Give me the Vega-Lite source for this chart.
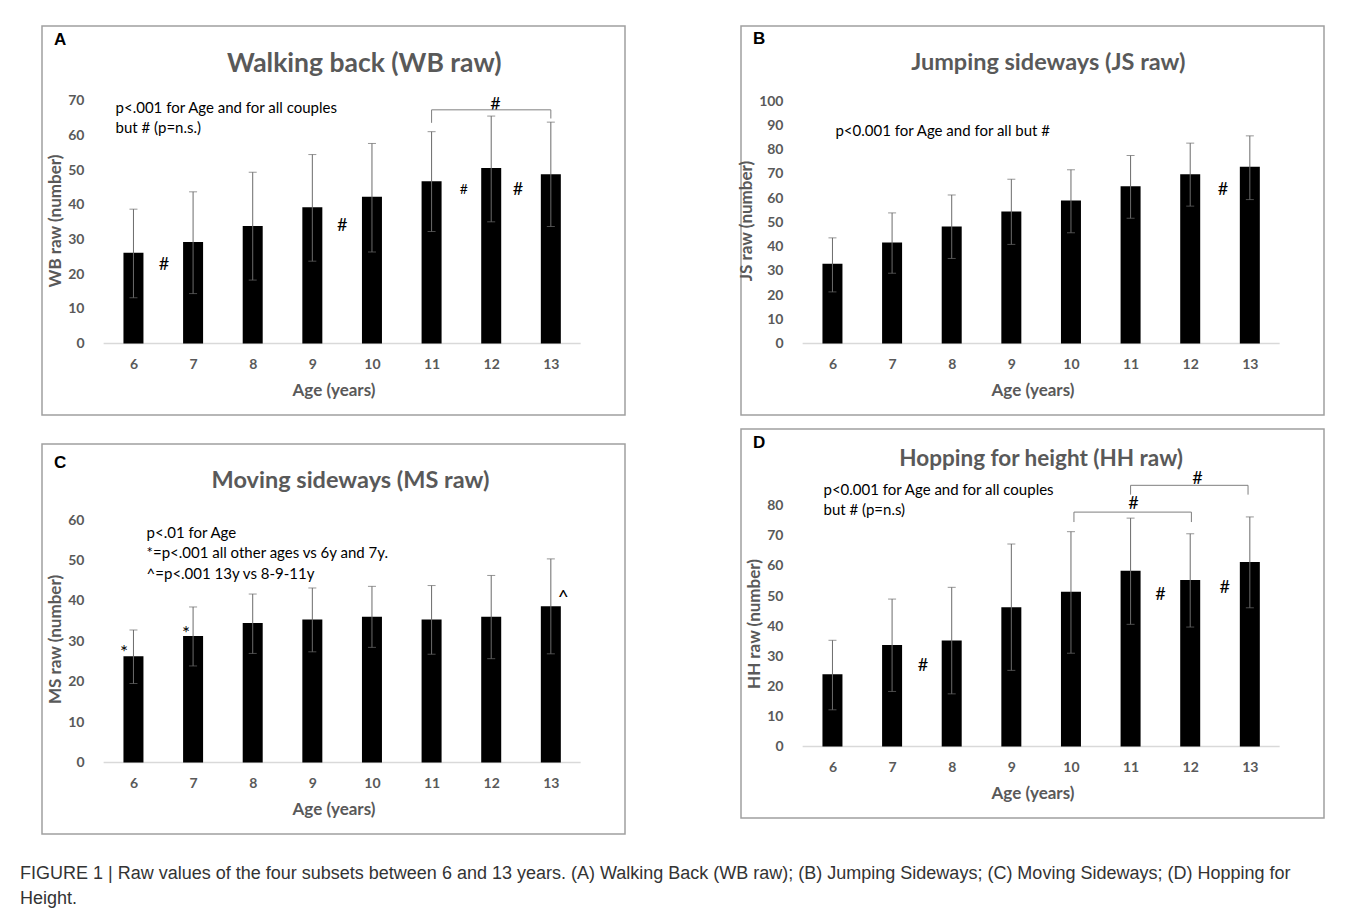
{
  "$schema": "https://vega.github.io/schema/vega-lite/v6.json",
  "padding": {"left": 20, "top": 25, "right": 10, "bottom": 10},
  "background": "white",
  "datasets": {
    "wb": [
      {"age": 6, "mean": 26.15, "lo": 13.2, "hi": 38.75},
      {"age": 7, "mean": 29.3, "lo": 14.4, "hi": 43.75},
      {"age": 8, "mean": 33.9, "lo": 18.3, "hi": 49.4},
      {"age": 9, "mean": 39.3, "lo": 23.75, "hi": 54.5},
      {"age": 10, "mean": 42.3, "lo": 26.4, "hi": 57.7},
      {"age": 11, "mean": 46.8, "lo": 32.3, "hi": 61.1},
      {"age": 12, "mean": 50.6, "lo": 35.1, "hi": 65.6},
      {"age": 13, "mean": 48.85, "lo": 33.75, "hi": 63.85}
    ],
    "js": [
      {"age": 6, "mean": 32.9, "lo": 21.3, "hi": 43.6},
      {"age": 7, "mean": 41.7, "lo": 29.0, "hi": 53.9},
      {"age": 8, "mean": 48.3, "lo": 35.1, "hi": 61.3},
      {"age": 9, "mean": 54.5, "lo": 40.9, "hi": 67.8},
      {"age": 10, "mean": 59.0, "lo": 45.7, "hi": 71.7},
      {"age": 11, "mean": 64.9, "lo": 51.7, "hi": 77.6},
      {"age": 12, "mean": 69.9, "lo": 56.7, "hi": 82.7},
      {"age": 13, "mean": 72.9, "lo": 59.4, "hi": 85.7}
    ],
    "ms": [
      {"age": 6, "mean": 26.3, "lo": 19.55, "hi": 32.8},
      {"age": 7, "mean": 31.3, "lo": 23.9, "hi": 38.5},
      {"age": 8, "mean": 34.5, "lo": 27.0, "hi": 41.7},
      {"age": 9, "mean": 35.4, "lo": 27.4, "hi": 43.2},
      {"age": 10, "mean": 36.1, "lo": 28.5, "hi": 43.6},
      {"age": 11, "mean": 35.4, "lo": 26.8, "hi": 43.8},
      {"age": 12, "mean": 36.1, "lo": 25.7, "hi": 46.3},
      {"age": 13, "mean": 38.7, "lo": 26.9, "hi": 50.4}
    ],
    "hh": [
      {"age": 6, "mean": 24.0, "lo": 12.2, "hi": 35.3},
      {"age": 7, "mean": 33.7, "lo": 18.3, "hi": 49.0},
      {"age": 8, "mean": 35.2, "lo": 17.5, "hi": 52.9},
      {"age": 9, "mean": 46.3, "lo": 25.3, "hi": 67.3},
      {"age": 10, "mean": 51.4, "lo": 31.0, "hi": 71.4},
      {"age": 11, "mean": 58.4, "lo": 40.6, "hi": 75.9},
      {"age": 12, "mean": 55.3, "lo": 39.7, "hi": 70.7},
      {"age": 13, "mean": 61.3, "lo": 46.1, "hi": 76.3}
    ],
    "baseline": [{"from": 5.5, "to": 13.5, "level": 0}],
    "titles": [
      {"panel": "A", "label": "Walking back (WB raw)", "px": 9.87, "py": 80.5},
      {"panel": "B", "label": "Jumping sideways (JS raw)", "px": 9.62, "py": 115.8},
      {"panel": "C", "label": "Moving sideways (MS raw)", "px": 9.64, "py": 69.7},
      {"panel": "D", "label": "Hopping for height (HH raw)", "px": 9.5, "py": 95.6}
    ],
    "letters": [
      {"panel": "A", "label": "A", "px": 4.77, "py": 87.4},
      {"panel": "B", "label": "B", "px": 4.77, "py": 125.5},
      {"panel": "C", "label": "C", "px": 4.77, "py": 74.1},
      {"panel": "D", "label": "D", "px": 4.77, "py": 100.8}
    ],
    "notes": [
      {"panel": "A", "label": ["p<.001 for Age and for all couples", "but # (p=n.s.)"], "px": 5.7, "py": 67.8},
      {"panel": "B", "label": ["p<0.001 for Age and for all but #"], "px": 6.05, "py": 87.6},
      {"panel": "C", "label": ["p<.01 for Age", "*=p<.001 all other ages vs 6y and 7y.", "^=p<.001 13y vs 8-9-11y"], "px": 6.22, "py": 56.9},
      {"panel": "D", "label": ["p<0.001 for Age and for all couples", "but # (p=n.s)"], "px": 5.85, "py": 85.3}
    ],
    "signs": [
      {"panel": "A", "label": "#", "px": 6.51, "py": 22.6},
      {"panel": "A", "label": "#", "px": 9.5, "py": 33.85},
      {"panel": "A", "label": "#", "px": 12.45, "py": 44.4},
      {"panel": "A", "label": "#", "px": 12.07, "py": 68.65},
      {"panel": "B", "label": "#", "px": 12.55, "py": 63.5},
      {"panel": "C", "label": "*", "px": 5.84, "py": 27.2},
      {"panel": "C", "label": "*", "px": 6.88, "py": 31.8},
      {"panel": "C", "label": "^", "px": 13.21, "py": 40.6},
      {"panel": "D", "label": "#", "px": 7.52, "py": 26.9},
      {"panel": "D", "label": "#", "px": 11.5, "py": 50.2},
      {"panel": "D", "label": "#", "px": 12.58, "py": 52.6},
      {"panel": "D", "label": "#", "px": 11.05, "py": 80.6},
      {"panel": "D", "label": "#", "px": 12.12, "py": 88.9}
    ],
    "small_signs": [
      {"panel": "A", "label": "#", "px": 11.54, "py": 44.2}
    ],
    "brackets": [
      {"panel": "A", "xa": 11, "xb": 13, "ya": 67.4, "yb": 67.4},
      {"panel": "A", "xa": 11, "xb": 11, "ya": 67.4, "yb": 63.65},
      {"panel": "A", "xa": 13, "xb": 13, "ya": 67.4, "yb": 64.9},
      {"panel": "D", "xa": 10.05, "xb": 12.02, "ya": 77.9, "yb": 77.9},
      {"panel": "D", "xa": 10.05, "xb": 10.05, "ya": 77.9, "yb": 74.6},
      {"panel": "D", "xa": 12.02, "xb": 12.02, "ya": 77.9, "yb": 74.6},
      {"panel": "D", "xa": 11.0, "xb": 12.97, "ya": 86.8, "yb": 86.8},
      {"panel": "D", "xa": 11.0, "xb": 11.0, "ya": 86.8, "yb": 83.7},
      {"panel": "D", "xa": 12.97, "xb": 12.97, "ya": 86.8, "yb": 83.7}
    ]
  },
  "title": {
    "text": ["FIGURE 1 | Raw values of the four subsets between 6 and 13 years. (A) Walking Back (WB raw); (B) Jumping Sideways; (C) Moving Sideways; (D) Hopping for", "Height."],
    "orient": "bottom",
    "anchor": "start",
    "frame": "group",
    "offset": 30,
    "dx": -22,
    "font": "Liberation Sans",
    "fontSize": 18,
    "fontWeight": "normal",
    "color": "#333333",
    "lineHeight": 25,
    "baseline": "top"
  },
  "spacing": 110,
  "hconcat": [
    {
      "spacing": 27,
      "vconcat": [
        {
          "width": 583, "height": 389,
          "data": {"name": "wb"},
          "encoding": {
            "x": {"field": "age", "type": "quantitative", "scale": {"domain": [4.55, 14.16], "nice": false, "zero": false}, "axis": {"title": "Age (years)", "values": [6, 7, 8, 9, 10, 11, 12, 13], "format": "d"}},
            "y": {"field": "mean", "type": "quantitative", "scale": {"domain": [-20.62, 91.58], "nice": false, "zero": false}, "axis": {"title": "WB raw (number)", "values": [0, 10, 20, 30, 40, 50, 60, 70]}}
          },
          "layer": [
            {"data": {"name": "baseline"}, "mark": {"type": "rule", "color": "#d9d9d9", "strokeWidth": 1.5}, "encoding": {"x": {"field": "from", "type": "quantitative"}, "x2": {"field": "to"}, "y": {"field": "level", "type": "quantitative"}}},
            {"mark": {"type": "bar", "color": "#000000", "size": 20}, "encoding": {"y2": {"datum": 0}}},
            {"mark": {"type": "rule", "color": "#6b6b6b", "strokeWidth": 1}, "encoding": {"y": {"field": "lo"}, "y2": {"field": "hi"}}},
            {"mark": {"type": "tick", "orient": "horizontal", "color": "#6b6b6b", "size": 8, "thickness": 1}, "encoding": {"y": {"field": "lo"}}},
            {"mark": {"type": "tick", "orient": "horizontal", "color": "#6b6b6b", "size": 8, "thickness": 1}, "encoding": {"y": {"field": "hi"}}},
            {"data": {"name": "titles"}, "transform": [{"filter": "datum.panel == 'A'"}], "mark": {"type": "text", "font": "Lato", "fontWeight": "bold", "fontSize": 26.5, "color": "#595959", "align": "center", "baseline": "middle"}, "encoding": {"x": {"field": "px", "type": "quantitative"}, "y": {"field": "py", "type": "quantitative"}, "text": {"field": "label"}}},
            {"data": {"name": "letters"}, "transform": [{"filter": "datum.panel == 'A'"}], "mark": {"type": "text", "font": "Liberation Sans", "fontWeight": "bold", "fontSize": 17, "color": "#000000", "align": "center", "baseline": "middle"}, "encoding": {"x": {"field": "px", "type": "quantitative"}, "y": {"field": "py", "type": "quantitative"}, "text": {"field": "label"}}},
            {"data": {"name": "notes"}, "transform": [{"filter": "datum.panel == 'A'"}], "mark": {"type": "text", "lineHeight": 20, "font": "Lato", "fontSize": 15, "color": "#000000", "align": "left", "baseline": "middle"}, "encoding": {"x": {"field": "px", "type": "quantitative"}, "y": {"field": "py", "type": "quantitative"}, "text": {"field": "label"}}},
            {"data": {"name": "signs"}, "transform": [{"filter": "datum.panel == 'A'"}], "mark": {"type": "text", "font": "Lato", "fontSize": 18, "color": "#000000", "align": "center", "baseline": "middle"}, "encoding": {"x": {"field": "px", "type": "quantitative"}, "y": {"field": "py", "type": "quantitative"}, "text": {"field": "label"}}},
            {"data": {"name": "small_signs"}, "transform": [{"filter": "datum.panel == 'A'"}], "mark": {"type": "text", "font": "Lato", "fontSize": 14, "color": "#000000", "align": "center", "baseline": "middle"}, "encoding": {"x": {"field": "px", "type": "quantitative"}, "y": {"field": "py", "type": "quantitative"}, "text": {"field": "label"}}},
            {"data": {"name": "brackets"}, "transform": [{"filter": "datum.panel == 'A'"}], "mark": {"type": "rule", "color": "#7f7f7f", "strokeWidth": 1}, "encoding": {"x": {"field": "xa", "type": "quantitative"}, "x2": {"field": "xb"}, "y": {"field": "ya", "type": "quantitative"}, "y2": {"field": "yb"}}}
          ]
        },
        {
          "width": 583, "height": 390,
          "data": {"name": "ms"},
          "encoding": {
            "x": {"field": "age", "type": "quantitative", "scale": {"domain": [4.55, 14.16], "nice": false, "zero": false}, "axis": {"title": "Age (years)", "values": [6, 7, 8, 9, 10, 11, 12, 13], "format": "d"}},
            "y": {"field": "mean", "type": "quantitative", "scale": {"domain": [-17.7, 78.84], "nice": false, "zero": false}, "axis": {"title": "MS raw (number)", "values": [0, 10, 20, 30, 40, 50, 60]}}
          },
          "layer": [
            {"data": {"name": "baseline"}, "mark": {"type": "rule", "color": "#d9d9d9", "strokeWidth": 1.5}, "encoding": {"x": {"field": "from", "type": "quantitative"}, "x2": {"field": "to"}, "y": {"field": "level", "type": "quantitative"}}},
            {"mark": {"type": "bar", "color": "#000000", "size": 20}, "encoding": {"y2": {"datum": 0}}},
            {"mark": {"type": "rule", "color": "#6b6b6b", "strokeWidth": 1}, "encoding": {"y": {"field": "lo"}, "y2": {"field": "hi"}}},
            {"mark": {"type": "tick", "orient": "horizontal", "color": "#6b6b6b", "size": 8, "thickness": 1}, "encoding": {"y": {"field": "lo"}}},
            {"mark": {"type": "tick", "orient": "horizontal", "color": "#6b6b6b", "size": 8, "thickness": 1}, "encoding": {"y": {"field": "hi"}}},
            {"data": {"name": "titles"}, "transform": [{"filter": "datum.panel == 'C'"}], "mark": {"type": "text", "font": "Lato", "fontWeight": "bold", "fontSize": 23.5, "color": "#595959", "align": "center", "baseline": "middle"}, "encoding": {"x": {"field": "px", "type": "quantitative"}, "y": {"field": "py", "type": "quantitative"}, "text": {"field": "label"}}},
            {"data": {"name": "letters"}, "transform": [{"filter": "datum.panel == 'C'"}], "mark": {"type": "text", "font": "Liberation Sans", "fontWeight": "bold", "fontSize": 17, "color": "#000000", "align": "center", "baseline": "middle"}, "encoding": {"x": {"field": "px", "type": "quantitative"}, "y": {"field": "py", "type": "quantitative"}, "text": {"field": "label"}}},
            {"data": {"name": "notes"}, "transform": [{"filter": "datum.panel == 'C'"}], "mark": {"type": "text", "lineHeight": 20.5, "font": "Lato", "fontSize": 15, "color": "#000000", "align": "left", "baseline": "middle"}, "encoding": {"x": {"field": "px", "type": "quantitative"}, "y": {"field": "py", "type": "quantitative"}, "text": {"field": "label"}}},
            {"data": {"name": "signs"}, "transform": [{"filter": "datum.panel == 'C'"}], "mark": {"type": "text", "font": "Lato", "fontSize": 19, "color": "#000000", "align": "center", "baseline": "middle"}, "encoding": {"x": {"field": "px", "type": "quantitative"}, "y": {"field": "py", "type": "quantitative"}, "text": {"field": "label"}}}
          ]
        }
      ]
    },
    {
      "spacing": 12,
      "vconcat": [
        {
          "width": 583, "height": 389,
          "data": {"name": "js"},
          "encoding": {
            "x": {"field": "age", "type": "quantitative", "scale": {"domain": [4.55, 14.16], "nice": false, "zero": false}, "axis": {"title": "Age (years)", "values": [6, 7, 8, 9, 10, 11, 12, 13], "format": "d"}},
            "y": {"field": "mean", "type": "quantitative", "scale": {"domain": [-29.51, 131.04], "nice": false, "zero": false}, "axis": {"title": "JS raw (number)", "values": [0, 10, 20, 30, 40, 50, 60, 70, 80, 90, 100]}}
          },
          "layer": [
            {"data": {"name": "baseline"}, "mark": {"type": "rule", "color": "#d9d9d9", "strokeWidth": 1.5}, "encoding": {"x": {"field": "from", "type": "quantitative"}, "x2": {"field": "to"}, "y": {"field": "level", "type": "quantitative"}}},
            {"mark": {"type": "bar", "color": "#000000", "size": 20}, "encoding": {"y2": {"datum": 0}}},
            {"mark": {"type": "rule", "color": "#6b6b6b", "strokeWidth": 1}, "encoding": {"y": {"field": "lo"}, "y2": {"field": "hi"}}},
            {"mark": {"type": "tick", "orient": "horizontal", "color": "#6b6b6b", "size": 8, "thickness": 1}, "encoding": {"y": {"field": "lo"}}},
            {"mark": {"type": "tick", "orient": "horizontal", "color": "#6b6b6b", "size": 8, "thickness": 1}, "encoding": {"y": {"field": "hi"}}},
            {"data": {"name": "titles"}, "transform": [{"filter": "datum.panel == 'B'"}], "mark": {"type": "text", "font": "Lato", "fontWeight": "bold", "fontSize": 23.5, "color": "#595959", "align": "center", "baseline": "middle"}, "encoding": {"x": {"field": "px", "type": "quantitative"}, "y": {"field": "py", "type": "quantitative"}, "text": {"field": "label"}}},
            {"data": {"name": "letters"}, "transform": [{"filter": "datum.panel == 'B'"}], "mark": {"type": "text", "font": "Liberation Sans", "fontWeight": "bold", "fontSize": 17, "color": "#000000", "align": "center", "baseline": "middle"}, "encoding": {"x": {"field": "px", "type": "quantitative"}, "y": {"field": "py", "type": "quantitative"}, "text": {"field": "label"}}},
            {"data": {"name": "notes"}, "transform": [{"filter": "datum.panel == 'B'"}], "mark": {"type": "text", "lineHeight": 20, "font": "Lato", "fontSize": 15, "color": "#000000", "align": "left", "baseline": "middle"}, "encoding": {"x": {"field": "px", "type": "quantitative"}, "y": {"field": "py", "type": "quantitative"}, "text": {"field": "label"}}},
            {"data": {"name": "signs"}, "transform": [{"filter": "datum.panel == 'B'"}], "mark": {"type": "text", "font": "Lato", "fontSize": 18, "color": "#000000", "align": "center", "baseline": "middle"}, "encoding": {"x": {"field": "px", "type": "quantitative"}, "y": {"field": "py", "type": "quantitative"}, "text": {"field": "label"}}}
          ]
        },
        {
          "width": 583, "height": 389,
          "data": {"name": "hh"},
          "encoding": {
            "x": {"field": "age", "type": "quantitative", "scale": {"domain": [4.55, 14.16], "nice": false, "zero": false}, "axis": {"title": "Age (years)", "values": [6, 7, 8, 9, 10, 11, 12, 13], "format": "d"}},
            "y": {"field": "mean", "type": "quantitative", "scale": {"domain": [-23.76, 105.52], "nice": false, "zero": false}, "axis": {"title": "HH raw (number)", "values": [0, 10, 20, 30, 40, 50, 60, 70, 80]}}
          },
          "layer": [
            {"data": {"name": "baseline"}, "mark": {"type": "rule", "color": "#d9d9d9", "strokeWidth": 1.5}, "encoding": {"x": {"field": "from", "type": "quantitative"}, "x2": {"field": "to"}, "y": {"field": "level", "type": "quantitative"}}},
            {"mark": {"type": "bar", "color": "#000000", "size": 20}, "encoding": {"y2": {"datum": 0}}},
            {"mark": {"type": "rule", "color": "#6b6b6b", "strokeWidth": 1}, "encoding": {"y": {"field": "lo"}, "y2": {"field": "hi"}}},
            {"mark": {"type": "tick", "orient": "horizontal", "color": "#6b6b6b", "size": 8, "thickness": 1}, "encoding": {"y": {"field": "lo"}}},
            {"mark": {"type": "tick", "orient": "horizontal", "color": "#6b6b6b", "size": 8, "thickness": 1}, "encoding": {"y": {"field": "hi"}}},
            {"data": {"name": "titles"}, "transform": [{"filter": "datum.panel == 'D'"}], "mark": {"type": "text", "font": "Lato", "fontWeight": "bold", "fontSize": 22.5, "color": "#595959", "align": "center", "baseline": "middle"}, "encoding": {"x": {"field": "px", "type": "quantitative"}, "y": {"field": "py", "type": "quantitative"}, "text": {"field": "label"}}},
            {"data": {"name": "letters"}, "transform": [{"filter": "datum.panel == 'D'"}], "mark": {"type": "text", "font": "Liberation Sans", "fontWeight": "bold", "fontSize": 17, "color": "#000000", "align": "center", "baseline": "middle"}, "encoding": {"x": {"field": "px", "type": "quantitative"}, "y": {"field": "py", "type": "quantitative"}, "text": {"field": "label"}}},
            {"data": {"name": "notes"}, "transform": [{"filter": "datum.panel == 'D'"}], "mark": {"type": "text", "lineHeight": 20, "font": "Lato", "fontSize": 15, "color": "#000000", "align": "left", "baseline": "middle"}, "encoding": {"x": {"field": "px", "type": "quantitative"}, "y": {"field": "py", "type": "quantitative"}, "text": {"field": "label"}}},
            {"data": {"name": "signs"}, "transform": [{"filter": "datum.panel == 'D'"}], "mark": {"type": "text", "font": "Lato", "fontSize": 18, "color": "#000000", "align": "center", "baseline": "middle"}, "encoding": {"x": {"field": "px", "type": "quantitative"}, "y": {"field": "py", "type": "quantitative"}, "text": {"field": "label"}}},
            {"data": {"name": "brackets"}, "transform": [{"filter": "datum.panel == 'D'"}], "mark": {"type": "rule", "color": "#7f7f7f", "strokeWidth": 1}, "encoding": {"x": {"field": "xa", "type": "quantitative"}, "x2": {"field": "xb"}, "y": {"field": "ya", "type": "quantitative"}, "y2": {"field": "yb"}}}
          ]
        }
      ]
    }
  ],
  "config": {
    "view": {"stroke": "#a0a0a0", "strokeWidth": 1.5},
    "font": "Lato",
    "axis": {"grid": false, "domain": false, "ticks": false, "labelFont": "Lato", "labelFontWeight": "bold", "labelColor": "#595959", "labelFontSize": 14, "titleFont": "Lato", "titleFontWeight": "bold", "titleColor": "#595959", "titleFontSize": 17},
    "axisY": {"offset": -44, "labelPadding": 2, "titlePadding": 3},
    "axisX": {"offset": -71.5, "labelPadding": 14, "titlePadding": 11}
  }
}
